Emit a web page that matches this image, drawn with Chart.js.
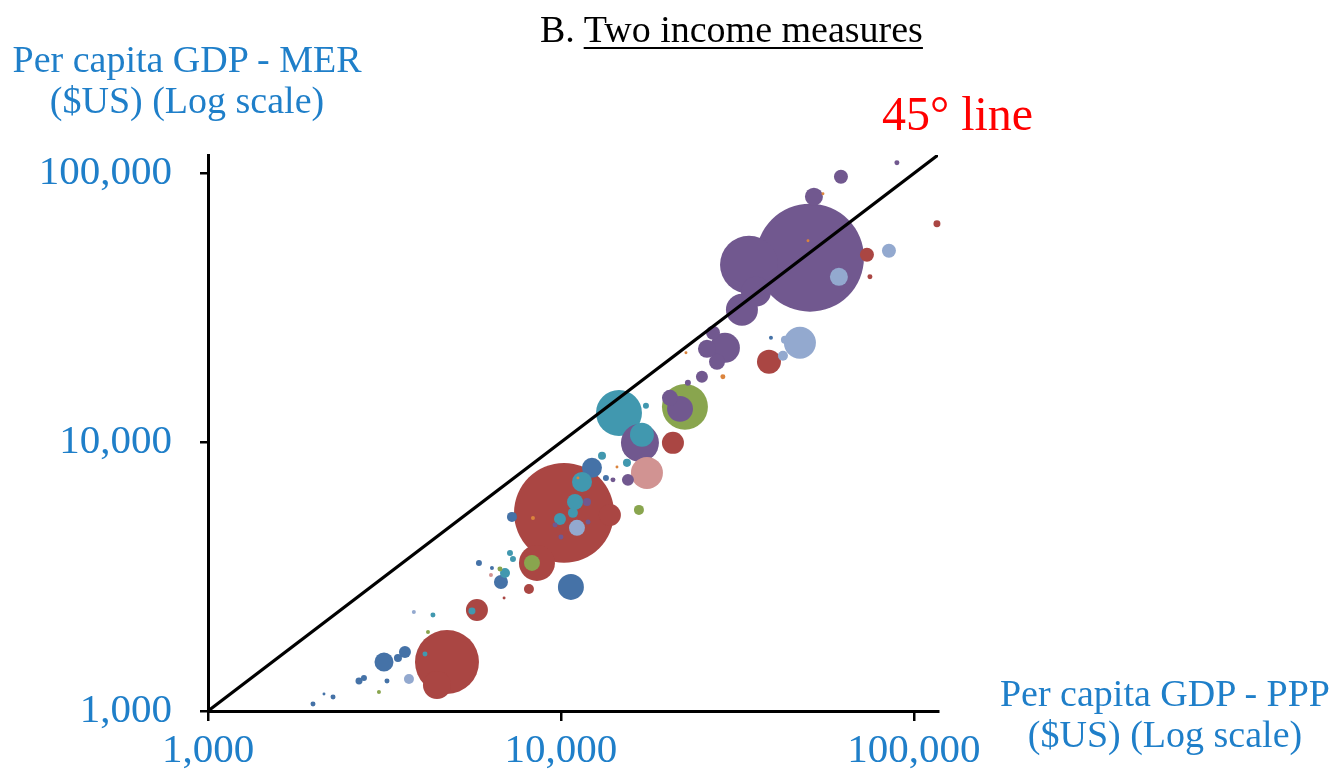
<!DOCTYPE html>
<html>
<head>
<meta charset="utf-8">
<script src="https://cdn.jsdelivr.net/npm/chart.js@4.4.0/dist/chart.umd.min.js"></script>
<style>
  body { margin: 0; background: #fff; }
  #wrap { position: relative; width: 1335px; height: 780px; font-family: 'Liberation Serif', 'Times New Roman', serif; }
  #chart { position: absolute; left: 0; top: 0; }
  .lbl { position: absolute; white-space: nowrap; }
  #title { left: 540px; top: 10px; font-size: 38px; line-height: 1; color: #000; }
  #title u { text-decoration-thickness: 2px; text-underline-offset: 5px; }
  #line45 { left: 882px; top: 90px; font-size: 48px; line-height: 1; color: #ff0000; }
  .axisTitle { font-size: 38px; line-height: 41px; color: #1f7fc9; text-align: center; width: 400px; }
  #yTitle { left: -13px; top: 39px; }
  #xTitle { left: 965px; top: 673px; }
</style>
</head>
<body>
<div id="wrap">
  <canvas id="chart" width="1335" height="780"></canvas>
  <div class="lbl" id="title">B. <u>Two income measures</u></div>
  <div class="lbl" id="line45">45° line</div>
  <div class="lbl axisTitle" id="yTitle">Per capita GDP - MER<br>($US) (Log scale)</div>
  <div class="lbl axisTitle" id="xTitle">Per capita GDP - PPP<br>($US) (Log scale)</div>
</div>
<script>
// per capita GDP at PPP (x), at market exchange rates (y), and economy size (bubble area)
const purplePPP = [50750, 34100, 32560, 35680, 26960, 29140, 25920, 27670, 25080, 22890, 62120, 52080, 89500, 21740, 20360, 16740, 15480, 11850, 9620, 10000, 11930, 14040]
const purpleMER = [48530, 45700, 31070, 36260, 25520, 22440, 22250, 19900, 17500, 16620, 97140, 81850, 109500, 13300, 14620, 9940, 7240, 5995, 4920, 4440, 5050, 7240]
const purpleSize = [15980, 4610, 1403, 1233, 269, 1233, 444, 350, 197, 49, 269, 444, 34, 926, 350, 1978, 197, 88, 34, 34, 34, 34]

const lightBluePPP = [61300, 84950, 47530, 42550, 43110, 11100, 3710, 3830]
const lightBlueMER = [41230, 51520, 23420, 20950, 24020, 4800, 1315, 2335]
const lightBlueSize = [444, 269, 1403, 137, 88, 350, 137, 22]

const redPPP = [10200, 13760, 8550, 8115, 5780, 4754, 4453, 20760, 38840, 73600, 75060, 116200, 6900]
const redMER = [5458, 5363, 3554, 2845, 2376, 1522, 1249, 9940, 19900, 49770, 41230, 64940, 2630]
const redSize = [13700, 663, 1776, 137, 663, 5612, 1074, 663, 789, 269, 34, 67, 12]

const bluePPP = [12240, 10670, 6761, 5856, 7263, 13410, 3152, 3453, 3614, 2678, 2766, 3215, 2261, 1984, 39350, 6375, 2131]
const blueMER = [8024, 2894, 3020, 3554, 5272, 7364, 1522, 1575, 1658, 1293, 1327, 1293, 1127, 1062, 24440, 3406, 1157]
const blueSize = [548, 926, 269, 49, 137, 49, 495, 88, 197, 67, 49, 34, 34, 34, 22, 22, 12]

const tealPPP = [14600, 16960, 17410, 11470, 10960, 10810, 9935, 13070, 15380, 6941, 7171, 7312, 5595, 4119, 4339]
const tealMER = [12850, 10650, 13650, 7116, 5995, 5458, 5183, 8894, 8375, 3263, 3873, 3679, 2356, 1630, 2277]
const tealSize = [2899, 789, 49, 548, 350, 137, 197, 88, 88, 137, 49, 49, 67, 34, 34]

const greenPPP = [22450, 16630, 8277, 6718, 3050, 4200]
const greenMER = [13530, 5598, 3554, 3377, 1177, 1968]
const greenSize = [2899, 137, 350, 34, 22, 22]

const pinkPPP = [17520, 6334]
const pinkMER = [7686, 3207]
const pinkSize = [1403, 22]

const orangePPP = [50100, 55240, 28760, 22600, 14410, 8330, 11170]
const orangeMER = [56130, 83980, 17500, 21490, 8091, 5227, 7364]
const orangeSize = [12, 12, 34, 12, 12, 22, 12]

const axisTicks = [1000, 10000, 100000]
const axisMin = 1000
const axisMax = 117000

const blueText = '#1f7fc9'

const groups = [
    { color: '#71588F', ppp: purplePPP, mer: purpleMER, size: purpleSize },
    { color: '#93A9CF', ppp: lightBluePPP, mer: lightBlueMER, size: lightBlueSize },
    { color: '#AA4643', ppp: redPPP, mer: redMER, size: redSize },
    { color: '#4572A7', ppp: bluePPP, mer: blueMER, size: blueSize },
    { color: '#4198AF', ppp: tealPPP, mer: tealMER, size: tealSize },
    { color: '#89A54E', ppp: greenPPP, mer: greenMER, size: greenSize },
    { color: '#D19392', ppp: pinkPPP, mer: pinkMER, size: pinkSize },
    { color: '#DB843D', ppp: orangePPP, mer: orangeMER, size: orangeSize }
]

// one table, biggest bubbles first so the small ones sit on top
const points = []
groups.forEach(g => g.ppp.forEach((x, i) => {
    points.push({ x: x, y: g.mer[i], r: Math.sqrt(g.size[i]) * 0.427, s: g.size[i], c: g.color })
}))
points.sort((a, b) => b.s - a.s)

const fixTicks = (scale) => {
    scale.ticks = axisTicks.map(v => ({ value: v }))
}

const axisCommon = {
    type: 'logarithmic',
    min: axisMin,
    max: axisMax,
    border: { color: '#000', width: 3 },
    grid: { drawOnChartArea: false, drawTicks: true, color: '#000', lineWidth: 2.5 },
    afterBuildTicks: fixTicks
}

new Chart(document.getElementById('chart').getContext('2d'), {
    data: {
        datasets: [
            {
                type: 'line',
                label: '45° line',
                data: [{ x: axisMin, y: axisMin }, { x: axisMax, y: axisMax }],
                borderColor: '#000',
                borderWidth: 3.2,
                pointRadius: 0,
                order: 0
            },
            {
                type: 'bubble',
                label: 'Economies',
                data: points,
                backgroundColor: ctx => (ctx.raw ? ctx.raw.c : '#000'),
                borderWidth: 0,
                hoverBorderWidth: 0,
                clip: false,
                order: 1
            }
        ]
    },
    options: {
        responsive: false,
        animation: false,
        events: [],
        layout: { autoPadding: false, padding: { top: 155, right: 397, bottom: 0, left: 0 } },
        plugins: { legend: { display: false }, tooltip: { enabled: false } },
        scales: {
            x: {
                ...axisCommon,
                position: 'bottom',
                grid: { ...axisCommon.grid, tickLength: 10 },
                ticks: {
                    color: blueText,
                    font: { family: 'Liberation Serif', size: 41 },
                    padding: 6,
                    maxRotation: 0,
                    autoSkip: false,
                    callback: v => v.toLocaleString('en-US')
                },
                afterFit: scale => { scale.height = 69 }
            },
            y: {
                ...axisCommon,
                position: 'left',
                grid: { ...axisCommon.grid, tickLength: 8 },
                ticks: {
                    color: blueText,
                    font: { family: 'Liberation Serif', size: 41 },
                    padding: 28,
                    autoSkip: false,
                    callback: v => v.toLocaleString('en-US')
                },
                afterFit: scale => { scale.width = 208 }
            }
        }
    }
})
</script>
</body>
</html>
